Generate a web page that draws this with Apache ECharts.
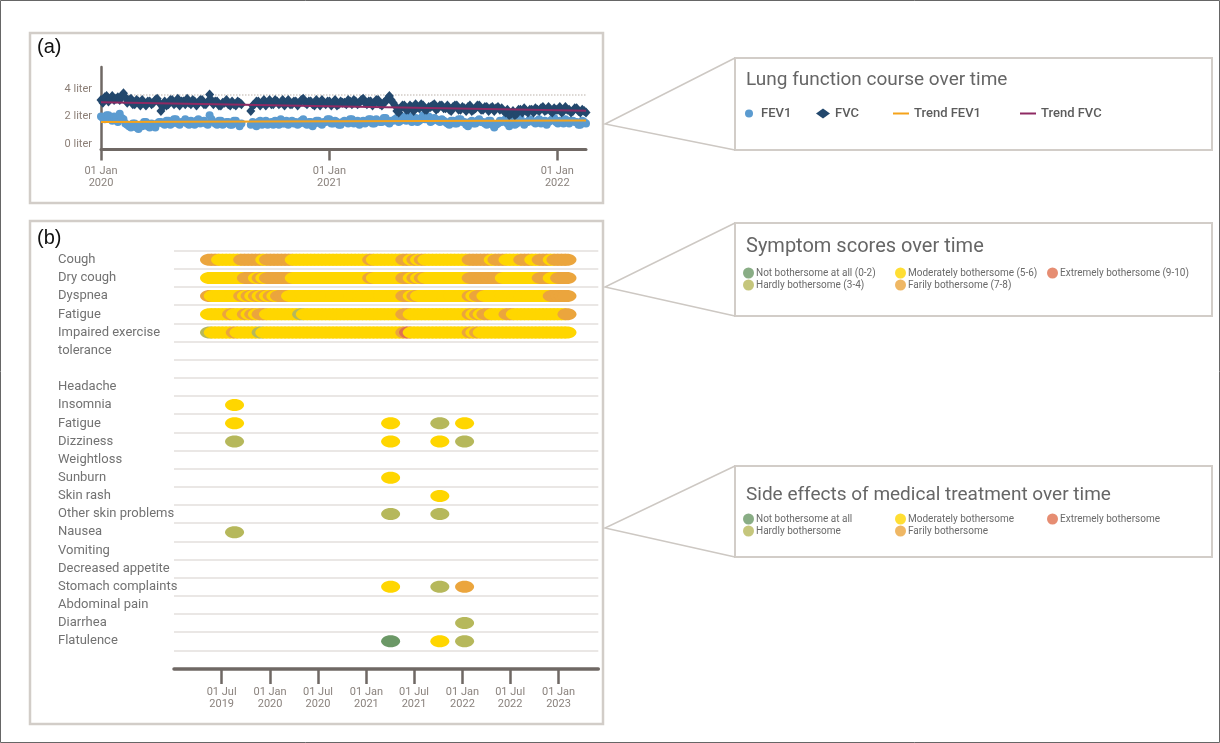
<!DOCTYPE html>
<html>
<head>
<meta charset="utf-8">
<title>Lung function, symptoms and side effects over time</title>
<script src="https://cdn.jsdelivr.net/npm/echarts@6.0.0/dist/echarts.min.js"></script>
<style>
  html, body { margin: 0; padding: 0; background: #fff; }
  #chart { width: 1220px; height: 743px; }
</style>
</head>
<body>
<div id="chart"></div>
<script>
const DAY = 86400000;
const ts = (s) => Date.parse(s); // 'YYYY-MM-DD' parses as UTC

// ---------- (a) lung function: one home reading every 3 days from 01 Jan 2020 ----------
const lungStart = '2020-01-01';
const lungStepDays = 3;
const fev1 = [
  2.4, 2.3, 2.2, 2.5, 2.5, 2.2, 2.1, 2.4, 2.3, 2.0, 2.6, 2.3, 2.2, 1.9,
  1.8, 1.7, 1.6, 1.9, 1.9, 1.6, 1.5, 1.8, 1.7, 2.0, 2.0, 1.7, 1.6, 1.9, 1.8, 1.6, 1.9, 2.0,
  2.0, 1.9,
  1.8, 2.1, 2.1, 1.8, 1.9, 2.2, 2.2, 1.9, 1.8, 2.0, 2.0, 2.2, 1.9, 1.8, 2.1, 2.0, 1.8, 2.1, 2.2, 1.9, 2.0, 2.1, 1.9, 1.8,
  2.5, 2.2,
  2.0, 1.9, 1.8, 2.1, 2.1, 1.8, 1.9, 2.0, 2.0, 1.8, 1.8, 2.1, 2.1, 1.9, 1.7, 1.9,
  null, null, null, null,
  1.8, 2.0,
  1.9, 1.7, 2.0, 2.1, 1.8, 1.9, 2.1, 1.8, 1.9, 2.0, 1.8, 2.1, 2.0, 1.8, 2.2, 1.9, 1.9, 2.1, 1.8, 2.0,
  2.1, 1.9, 2.0, 1.8, 1.9, 2.1, 2.2, 1.9, 1.8, 2.0, 2.0, 1.7, 1.9, 2.1, 2.1, 1.9, 1.8, 2.0, 2.0, 2.2,
  2.2, 1.9, 1.9, 2.1, 2.0, 1.8, 1.8, 2.0,
  2.1, 2.0, 1.9, 2.2, 2.2, 1.9, 2.0, 2.1, 1.8, 2.0, 2.1, 1.9, 2.0, 2.2, 2.2, 1.9, 1.9, 2.2, 2.1, 2.0,
  2.0, 2.3, 2.3, 2.0, 1.9, 2.1, 2.1, 2.2,
  2.3, 2.0, 2.1, 2.3, 2.4, 2.1, 2.2, 2.4, 2.0, 2.2, 2.3, 2.0, 2.1, 2.3, 2.5, 2.2, 2.2, 2.4, 2.0, 2.1,
  2.3, 2.2, 2.1, 2.0, 2.2, 2.1,
  2.0, 1.9, 1.8, 2.1, 2.1, 1.9, 1.9, 2.2, 2.2, 2.0, 2.0, 1.8, 1.7, 2.0, 2.1, 1.9, 1.9, 2.1, 2.2, 2.0,
  2.0, 1.9, 1.8, 2.1, 2.1, 1.8, 1.6, 1.8, 1.9, 2.1, 2.0, 2.1,
  2.2, 1.9, 1.7, 2.0, 2.1, 1.8, 1.9, 2.1, 2.3, 2.0, 1.8, 2.0, 2.0, 2.2,
  2.1, 2.0, 1.9, 2.1, 2.2, 1.9, 2.0, 2.1, 1.8, 2.0, 2.1, 2.2, 2.3, 2.0, 1.9, 2.1, 2.0, 1.9, 2.2, 2.0,
  1.9, 2.1, 2.1, 2.0, 2.0, 1.8, 1.8, 2.1, 2.0, 1.9
];
const fvc = [
  3.6, 3.4, 3.8, 3.9, 3.5, 3.7, 3.9, 3.6, 3.7, 3.8, 3.6, 3.9, 4.1, 3.8,
  3.4, 3.6, 3.7, 3.3, 3.3, 3.6, 3.5, 3.2, 3.6, 3.4, 3.2, 3.5, 3.5, 3.3, 3.4, 3.6, 3.7, 3.4,
  2.8, 3.1,
  3.5, 3.2, 3.3, 3.6, 3.6, 3.3, 3.4, 3.7, 3.2, 3.5, 3.5, 3.3, 3.7, 3.4, 3.3, 3.6, 3.5, 3.2, 3.4, 3.6, 3.6, 3.3, 3.3, 3.5,
  4.0, 3.6,
  3.3, 3.5, 3.5, 3.2, 3.2, 3.4, 3.4, 3.6, 3.3, 3.2, 3.5, 3.3, 3.2, 3.5, 3.4, 3.3,
  null, null, null, null,
  2.8, 3.2,
  3.3, 3.5, 3.5, 3.2, 3.4, 3.6, 3.2, 3.4, 3.6, 3.3, 3.3, 3.6, 3.5, 3.3, 3.4, 3.6, 3.2, 3.4, 3.6, 3.3,
  3.3, 3.5, 3.5, 3.2, 3.4, 3.6, 3.7, 3.4, 3.3, 3.5, 3.5, 3.3, 3.2, 3.6, 3.4, 3.2, 3.6, 3.4, 3.3, 3.5,
  3.5, 3.2, 3.4, 3.6, 3.2, 3.3, 3.5, 3.4,
  3.4, 3.3, 3.6, 3.5, 3.3, 3.6, 3.5, 3.3, 3.4, 3.6, 3.7, 3.4, 3.3, 3.5, 3.5, 3.2, 3.4, 3.6, 3.6, 3.3,
  3.2, 3.4, 3.5, 3.7, 3.9, 3.6, 3.4, 3.2,
  2.8, 2.7, 3.0, 3.2, 3.2, 2.9, 2.9, 3.2, 3.1, 2.8, 3.3, 3.1, 3.0, 3.3, 3.2, 2.9, 2.9, 3.1, 3.1, 3.2,
  3.3, 2.9, 3.0, 3.2, 3.2, 3.0,
  3.0, 3.2, 2.9, 2.8, 3.1, 3.2, 3.2, 2.9, 2.9, 3.1, 3.0, 2.8, 3.1, 3.2, 2.8, 2.9, 3.0, 3.2, 3.2, 2.9,
  2.9, 3.1, 3.1, 2.8, 3.0, 3.1, 2.8, 3.0, 3.1, 2.9, 3.0, 2.8,
  2.7, 2.9, 2.5, 2.6, 2.8, 2.5, 2.6, 2.9, 2.9, 2.7, 3.0, 2.8, 2.7, 2.9,
  2.9, 2.7, 3.0, 2.9, 2.8, 3.0, 3.1, 2.8, 2.9, 3.1, 2.8, 2.7, 3.0, 2.9, 2.9, 3.1, 2.7, 2.8, 3.1, 2.9,
  2.9, 2.7, 2.8, 3.0, 3.0, 2.8, 2.7, 2.9, 2.8, 2.7
];
const trendDates = ['2020-01-01', '2022-02-16'];
const trendFev1 = [2.0, 2.11];
const trendFvc = [3.44, 2.81];
const lungTicks = ['2020-01-01', '2021-01-01', '2022-01-01'];

// ---------- (b) symptom scores, one score every 14 days from 16 May 2019 ----------
// run-length: [score, number of consecutive readings]
const symptomStart = '2019-05-16';
const symptomStepDays = 14;
const coughRuns = [[7,3],[6,6],[7,6],[6,1],[7,7],[6,21],[7,1],[6,8],[7,2],[6,1],[7,1],[6,1],[7,1],[6,12],[7,6],[6,1],[7,3],[6,4],[7,3],[6,2],[7,3],[6,1],[7,4]];
const dryCoughRuns = [[6,10],[7,3],[6,1],[7,1],[6,1],[7,7],[6,21],[7,1],[6,8],[7,2],[6,1],[7,1],[6,1],[7,1],[6,12],[7,9],[6,10],[7,3],[6,2],[7,3]];
const dyspneaRuns = [[7,1],[6,8],[7,1],[6,1],[7,1],[6,1],[7,1],[6,1],[7,1],[6,1],[7,1],[6,1],[7,3],[6,31],[7,2],[6,1],[7,1],[6,14],[7,1],[6,1],[7,2],[6,18],[7,5]];
const fatigueRuns = [[6,6],[7,1],[6,3],[7,1],[6,1],[7,1],[6,1],[7,2],[6,9],[3,1],[6,27],[7,2],[6,16],[7,1],[6,1],[7,1],[6,1],[7,2],[6,4],[7,2],[6,14],[7,1]];
const exerciseRuns = [[3,1],[6,6],[7,1],[6,6],[3,1],[6,38],[7,1],[9,1],[6,16],[7,1],[6,1],[7,1],[6,24]];

const symptomRows = ['Cough', 'Dry cough', 'Dyspnea', 'Fatigue', 'Impaired exercise tolerance'];
const symptomRuns = [coughRuns, dryCoughRuns, dyspneaRuns, fatigueRuns, exerciseRuns];

// ---------- (b) side effects, reported on four dates ----------
const sideEffectDates = ['2019-08-19', '2021-04-03', '2021-10-07', '2022-01-09'];
const headache = [null, null, null, null];
const insomnia = [6, null, null, null];
const fatigueSide = [6, 6, 3, 6];
const dizziness = [3, 6, 6, 3];
const weightloss = [null, null, null, null];
const sunburn = [null, 6, null, null];
const skinRash = [null, null, 6, null];
const otherSkin = [null, 3, 3, null];
const nausea = [3, null, null, null];
const vomiting = [null, null, null, null];
const decreasedAppetite = [null, null, null, null];
const stomach = [null, 6, 3, 7];
const abdominalPain = [null, null, null, null];
const diarrhea = [null, null, null, 3];
const flatulence = [null, 1, 6, 3];

const sideEffectRows = ['Headache', 'Insomnia', 'Fatigue', 'Dizziness', 'Weightloss', 'Sunburn', 'Skin rash',
  'Other skin problems', 'Nausea', 'Vomiting', 'Decreased appetite', 'Stomach complaints', 'Abdominal pain',
  'Diarrhea', 'Flatulence'];
const sideEffectScores = [headache, insomnia, fatigueSide, dizziness, weightloss, sunburn, skinRash, otherSkin,
  nausea, vomiting, decreasedAppetite, stomach, abdominalPain, diarrhea, flatulence];

const timelineTicks = ['2019-07-01', '2020-01-01', '2020-07-01', '2021-01-01', '2021-07-01', '2022-01-01', '2022-07-01', '2023-01-01'];

// score bands
const bandNames = ['Not bothersome at all', 'Hardly bothersome', 'Moderately bothersome', 'Farily bothersome', 'Extremely bothersome'];
const bandRanges = ['(0-2)', '(3-4)', '(5-6)', '(7-8)', '(9-10)'];
const bandColors = ['#6b9866', '#b6b85b', '#ffd600', '#eba53d', '#e0704f'];
const bandOf = (s) => s <= 2 ? 0 : s <= 4 ? 1 : s <= 6 ? 2 : s <= 8 ? 3 : 4;

// rows of the timeline, two empty rows between the blocks
const rows = [...symptomRows, ' ', '  ', ...sideEffectRows];
const sideOffset = symptomRows.length + 2;

// ---------- build series data ----------
const lungPoints = (vals) => vals.map((v, i) => [ts(lungStart) + i * lungStepDays * DAY, v]);

const symptomData = [];
symptomRuns.forEach((runs, r) => {
  let i = 0;
  runs.forEach(([score, n]) => {
    for (let k = 0; k < n; k++, i++) {
      symptomData.push([ts(symptomStart) + i * symptomStepDays * DAY, r, score]);
    }
  });
});

const sideData = [];
sideEffectScores.forEach((scores, r) => {
  scores.forEach((s, d) => {
    if (s !== null) sideData.push([ts(sideEffectDates[d]), sideOffset + r, s]);
  });
});

const MONTHS = ['Jan', 'Feb', 'Mar', 'Apr', 'May', 'Jun', 'Jul', 'Aug', 'Sep', 'Oct', 'Nov', 'Dec'];
const dateLabel = (v) => {
  const d = new Date(v);
  return String(d.getUTCDate()).padStart(2, '0') + ' ' + MONTHS[d.getUTCMonth()] + '\n' + d.getUTCFullYear();
};

const ellipse = 'path://M0,1 C0,0.448 0.448,0 1,0 C1.552,0 2,0.448 2,1 C2,1.552 1.552,2 1,2 C0.448,2 0,1.552 0,1 Z';
const axisGrey = '#6f6864';
const labelGrey = '#8a827d';
const boxGrey = '#d2cdc8';

const chart = echarts.init(document.getElementById('chart'));

const legendText = { fontSize: 13, fontWeight: 500, color: '#5c5c5c', fontFamily: 'Roboto' };
const smallText = { fontSize: 10, color: '#6a6a6a', fontFamily: 'Roboto', padding: [0, 0, 0, -3] };

function bandLegend(names, left, top) {
  return {
    orient: 'vertical', left: left, top: top, padding: 0, itemGap: 1,
    itemWidth: 11, itemHeight: 11, icon: 'circle', selectedMode: false,
    data: names, textStyle: smallText
  };
}

function lungLegend(name, icon, left, w, h) {
  return {
    data: [{ name: name, icon: icon }], left: left, top: 107, padding: 0,
    itemWidth: w, itemHeight: h, selectedMode: false, textStyle: legendText
  };
}

const symptomLegendNames = bandNames.map((n, i) => n + ' ' + bandRanges[i]);

// date axes are value axes over timestamps, so ticks can sit on chosen dates
function dateAxis(grid, min, max, ticks, extra) {
  return Object.assign({
    type: 'value', gridIndex: grid, min: ts(min), max: ts(max), scale: true,
    axisLine: { show: true, onZero: false, lineStyle: { color: axisGrey, width: 3 } },
    axisTick: { show: true, length: 11, lineStyle: { color: axisGrey, width: 2.5 }, customValues: ticks.map(ts) },
    axisLabel: { customValues: ticks.map(ts), formatter: dateLabel, color: labelGrey, fontSize: 11, lineHeight: 12, margin: 16 },
    splitLine: { show: false }
  }, extra || {});
}

const option = {
  animation: false,
  textStyle: { fontFamily: 'Roboto' },
  title: [
    { text: 'Lung function course over time', left: 746, top: 71, padding: 0,
      textStyle: { fontSize: 19, fontWeight: 'normal', color: '#666' } },
    { text: 'Symptom scores over time', left: 746, top: 237, padding: 0,
      textStyle: { fontSize: 20, fontWeight: 'normal', color: '#666' } },
    { text: 'Side effects of medical treatment over time', left: 746, top: 486, padding: 0,
      textStyle: { fontSize: 19, fontWeight: 'normal', color: '#666' } }
  ],
  legend: [
    lungLegend('FEV1', 'circle', 745, 14, 8),
    lungLegend('FVC', 'diamond', 816, 14, 10),
    lungLegend('Trend FEV1', 'rect', 893, 16, 2),
    lungLegend('Trend FVC', 'rect', 1020, 16, 2),
    bandLegend(symptomLegendNames.slice(0, 2), 743, 267.5),
    bandLegend(symptomLegendNames.slice(2, 4), 895, 267.5),
    bandLegend(symptomLegendNames.slice(4), 1047, 267.5),
    bandLegend(bandNames.slice(0, 2), 743, 513.5),
    bandLegend(bandNames.slice(2, 4), 895, 513.5),
    bandLegend(bandNames.slice(4), 1047, 513.5)
  ],
  grid: [
    { left: 101, top: 67, width: 485, height: 82.5 },
    { left: 174, top: 250.7, width: 424.3, height: 399.6 }
  ],
  xAxis: [
    dateAxis(0, '2020-01-01', '2022-02-16', lungTicks),
    dateAxis(1, '2019-01-01', '2023-06-01', timelineTicks, {
      offset: 18.7,
      axisLine: { show: true, onZero: false, lineStyle: { color: axisGrey, width: 3.5 } },
      axisTick: { show: true, length: 15, lineStyle: { color: axisGrey, width: 2.5 }, customValues: timelineTicks.map(ts) },
      axisLabel: { customValues: timelineTicks.map(ts), formatter: dateLabel, color: labelGrey, fontSize: 11, lineHeight: 12, margin: 17 }
    })
  ],
  yAxis: [
    {
      type: 'value', gridIndex: 0, min: 0, max: 6, interval: 2,
      axisLine: { show: true, onZero: false, lineStyle: { color: axisGrey, width: 2.5 } },
      axisTick: { show: false },
      axisLabel: { formatter: '{value} liter', color: '#8c7f77', fontSize: 11, margin: 9, verticalAlign: 'bottom', showMaxLabel: false },
      splitLine: { show: true, showMinLine: false, showMaxLine: false, lineStyle: { color: '#d2ccc6', width: 1.5, type: 'dotted' } }
    },
    {
      type: 'category', gridIndex: 1, inverse: true, data: rows,
      axisLine: { show: false }, axisTick: { show: false },
      axisLabel: {
        interval: 0, align: 'left', margin: 116, fontSize: 13, color: '#727272',
        formatter: (v, i) => i === 4 ? 'Impaired exercise' : i === 5 ? 'tolerance' : v
      },
      splitLine: { show: true, interval: 0, lineStyle: { color: '#e3dfdc', width: 1.5 } }
    }
  ],
  series: [
    { name: 'FEV1', type: 'scatter', xAxisIndex: 0, yAxisIndex: 0, symbol: 'circle', symbolSize: 8,
      itemStyle: { color: '#5b9bd0', opacity: 1 }, data: lungPoints(fev1) },
    { name: 'FVC', type: 'scatter', xAxisIndex: 0, yAxisIndex: 0, symbol: 'diamond', symbolSize: [9, 10],
      itemStyle: { color: '#23486d', opacity: 1 }, data: lungPoints(fvc) },
    { name: 'Trend FEV1', type: 'line', xAxisIndex: 0, yAxisIndex: 0, symbol: 'none',
      lineStyle: { color: '#f5a31a', width: 2 }, itemStyle: { color: '#f5a31a' },
      data: trendDates.map((d, i) => [ts(d), trendFev1[i]]) },
    { name: 'Trend FVC', type: 'line', xAxisIndex: 0, yAxisIndex: 0, symbol: 'none',
      lineStyle: { color: '#8e2a63', width: 2 }, itemStyle: { color: '#8e2a63' },
      data: trendDates.map((d, i) => [ts(d), trendFvc[i]]) },
    { name: 'Symptom scores', type: 'scatter', xAxisIndex: 1, yAxisIndex: 1, symbol: ellipse, symbolSize: [19, 12],
      itemStyle: { opacity: 1, color: (p) => bandColors[bandOf(p.value[2])] }, data: symptomData },
    { name: 'Side effects', type: 'scatter', xAxisIndex: 1, yAxisIndex: 1, symbol: ellipse, symbolSize: [19, 12],
      itemStyle: { opacity: 1, color: (p) => bandColors[bandOf(p.value[2])] }, data: sideData },
    // legend-only entries
    ...symptomLegendNames.map((n, i) => ({ name: n, type: 'scatter', xAxisIndex: 1, yAxisIndex: 1, data: [], itemStyle: { color: bandColors[i] } })),
    ...bandNames.map((n, i) => ({ name: n, type: 'scatter', xAxisIndex: 1, yAxisIndex: 1, data: [], itemStyle: { color: bandColors[i] } }))
  ],
  graphic: [
    { type: 'rect', shape: { x: 0.5, y: 0.5, width: 1219, height: 742 }, style: { fill: 'none', stroke: '#666', lineWidth: 1 }, silent: true },
    { type: 'rect', shape: { x: 30, y: 33, width: 573, height: 170 }, style: { fill: 'none', stroke: boxGrey, lineWidth: 2.5 }, silent: true },
    { type: 'rect', shape: { x: 30, y: 221, width: 573, height: 503 }, style: { fill: 'none', stroke: boxGrey, lineWidth: 2.5 }, silent: true },
    { type: 'rect', shape: { x: 735, y: 58, width: 477, height: 92 }, style: { fill: 'none', stroke: boxGrey, lineWidth: 2 }, silent: true },
    { type: 'rect', shape: { x: 735, y: 223, width: 477, height: 93 }, style: { fill: 'none', stroke: boxGrey, lineWidth: 2 }, silent: true },
    { type: 'rect', shape: { x: 735, y: 466, width: 477, height: 91 }, style: { fill: 'none', stroke: boxGrey, lineWidth: 2 }, silent: true },
    { type: 'polyline', shape: { points: [[735, 58], [605, 124], [735, 150]] }, style: { fill: 'none', stroke: '#cdc8c3', lineWidth: 1.5 }, silent: true },
    { type: 'polyline', shape: { points: [[735, 223], [605, 287], [735, 316]] }, style: { fill: 'none', stroke: '#cdc8c3', lineWidth: 1.5 }, silent: true },
    { type: 'polyline', shape: { points: [[735, 466], [605, 528], [735, 557]] }, style: { fill: 'none', stroke: '#cdc8c3', lineWidth: 1.5 }, silent: true },
    { type: 'text', left: 37, top: 37, style: { text: '(a)', fontSize: 20, fill: '#111', fontFamily: 'Liberation Sans' }, silent: true },
    { type: 'text', left: 37, top: 228, style: { text: '(b)', fontSize: 20, fill: '#111', fontFamily: 'Liberation Sans' }, silent: true }
  ]
};

chart.setOption(option);
</script>
</body>
</html>
